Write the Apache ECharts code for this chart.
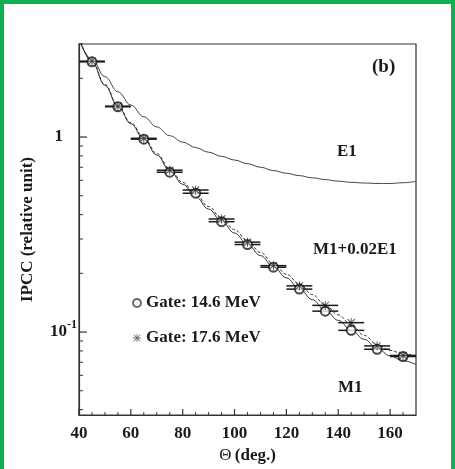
<!DOCTYPE html>
<html>
<head>
<meta charset="utf-8">
<script src="https://cdn.jsdelivr.net/npm/echarts@6/dist/echarts.min.js"></script>
<style>
html,body{margin:0;padding:0;background:#fff;}
#wrap{position:relative;width:455px;height:469px;}
#chart{position:absolute;left:0;top:0;width:455px;height:469px;}
#frame{position:absolute;left:0;top:0;width:447px;height:469px;border-left:4px solid #10b050;border-right:4px solid #10b050;border-top:4px solid #10b050;pointer-events:none;}
</style>
</head>
<body>
<div id="wrap"><div id="chart"></div><div id="frame"></div></div>
<script>
// ---- data ----
var angles = [45, 55, 65, 75, 85, 95, 105, 115, 125, 135, 145, 155, 165];
var binHalfWidth = 5;
var gate146 = [2.43, 1.43, 0.975, 0.66, 0.515, 0.368, 0.281, 0.215, 0.166, 0.128, 0.102, 0.0816, 0.0749];
var gate176 = [2.45, 1.44, 0.985, 0.676, 0.535, 0.380, 0.289, 0.219, 0.1725, 0.137, 0.1117, 0.0849, 0.0758];

var curveAngles = [40, 45, 50, 55, 60, 65, 70, 75, 80, 85, 90, 95, 100, 105, 110, 115, 120, 125, 130, 135, 140, 145, 150, 155, 160, 165, 170];
var curveE1 = [3.148, 2.5, 2.042, 1.706, 1.459, 1.27, 1.127, 1.016, 0.942, 0.883, 0.836, 0.796, 0.762, 0.73, 0.70, 0.673, 0.652, 0.634, 0.618, 0.605, 0.594, 0.586, 0.581, 0.578, 0.578, 0.583, 0.593];
var curveM1 = [3.236, 2.432, 1.841, 1.435, 1.17, 0.977, 0.809, 0.673, 0.573, 0.494, 0.427, 0.370, 0.322, 0.282, 0.2466, 0.2163, 0.1897, 0.1667, 0.1466, 0.1294, 0.1148, 0.1023, 0.0918, 0.0825, 0.0755, 0.0712, 0.0682];
var curveMix = [3.236, 2.455, 1.862, 1.452, 1.186, 0.993, 0.824, 0.687, 0.586, 0.507, 0.44, 0.383, 0.335, 0.294, 0.256, 0.224, 0.198, 0.1766, 0.1556, 0.1377, 0.1225, 0.1091, 0.0962, 0.0863, 0.0805, 0.0773, 0.0755];

var xMajorTicks = [40, 60, 80, 100, 120, 140, 160];
var xMinorTicks = [45, 50, 55, 65, 70, 75, 85, 90, 95, 105, 110, 115, 125, 130, 135, 145, 150, 155, 165];
var yMajorTicks = [0.1, 1];
var yMinorTicks = [0.04, 0.05, 0.06, 0.07, 0.08, 0.09, 0.2, 0.3, 0.4, 0.5, 0.6, 0.7, 0.8, 0.9, 2, 3];
var yRange = [0.0375, 3.0];
var xRange = [40, 170];

// ---- build ----
var L = Math.log10;
function pts(xs, ys) { return xs.map(function (x, i) { return [x, L(ys[i])]; }); }
var serif = '"Liberation Serif","DejaVu Serif",serif';
var ink = '#1a1a1a';
var yMin = L(yRange[0]), yMax = L(yRange[1]);
var frameLine = { show: true, onZero: false, lineStyle: { color: '#333', width: 1.2 } };
var starPath = 'path://M4.5,0 L5.5,0 L5.5,10 L4.5,10 Z M0,4.5 L10,4.5 L10,5.5 L0,5.5 Z M1.354,0.646 L9.354,8.646 L8.646,9.354 L0.646,1.354 Z M8.646,0.646 L9.354,1.354 L1.354,9.354 L0.646,8.646 Z';

function errBar(data) {
  return {
    type: 'custom', silent: true, data: data, z: 3,
    renderItem: function (params, api) {
      var y = api.value(1);
      var a = api.coord([api.value(0) - binHalfWidth, y]);
      var b = api.coord([api.value(0) + binHalfWidth, y]);
      return { type: 'line', shape: { x1: a[0], y1: a[1], x2: b[0], y2: b[1] }, style: { stroke: ink, lineWidth: 1.5 } };
    }
  };
}
// axis ticks placed through the axes' own scales
function xTicks(values, len, w) {
  return {
    type: 'custom', silent: true, clip: false, z: 6,
    data: values.map(function (v) { return [v, yMin]; }),
    renderItem: function (params, api) {
      var p = api.coord([api.value(0), yMin]);
      return { type: 'line', shape: { x1: p[0], y1: p[1], x2: p[0], y2: p[1] - len }, style: { stroke: '#333', lineWidth: w } };
    }
  };
}
function yTicks(values, len, w) {
  return {
    type: 'custom', silent: true, clip: false, z: 6,
    data: values.map(function (v) { return [xRange[0], L(v)]; }),
    renderItem: function (params, api) {
      var p = api.coord([xRange[0], api.value(1)]);
      return { type: 'line', shape: { x1: p[0], y1: p[1], x2: p[0] + len, y2: p[1] }, style: { stroke: '#333', lineWidth: w } };
    }
  };
}

var chart = echarts.init(document.getElementById('chart'), null, { renderer: 'canvas' });
chart.setOption({
  animation: false,
  backgroundColor: '#fff',
  grid: { left: 79, top: 44, width: 337, height: 373, show: true, borderColor: '#333', borderWidth: 1.2, backgroundColor: 'transparent' },
  xAxis: {
    type: 'value', min: xRange[0], max: xRange[1], position: 'bottom',
    axisLine: frameLine, splitLine: { show: false },
    axisTick: { show: false },
    axisLabel: { customValues: xMajorTicks, margin: 10, fontFamily: serif, fontWeight: 'bold', fontSize: 17, color: ink },
    name: '{t|\u0398} {b|(deg.)}', nameLocation: 'middle', nameGap: 30,
    nameTextStyle: { rich: { t: { fontFamily: serif, fontSize: 17, color: ink }, b: { fontFamily: serif, fontSize: 17, fontWeight: 'bold', color: ink } } }
  },
  yAxis: {
    type: 'value', min: yMin, max: yMax, position: 'left',
    axisLine: frameLine, splitLine: { show: false },
    axisTick: { show: false },
    axisLabel: {
      customValues: yMajorTicks.map(L), margin: 2,
      formatter: function (v) {
        if (Math.abs(v) < 1e-6) return '{one|1}';
        return '{b|10}{s|' + Math.round(v) + '}';
      },
      rich: {
        one: { fontFamily: serif, fontWeight: 'bold', fontSize: 17, color: ink, padding: [0, 14, 0, 0] },
        b: { fontFamily: serif, fontWeight: 'bold', fontSize: 17, color: ink },
        s: { fontFamily: serif, fontWeight: 'bold', fontSize: 12, color: ink, padding: [0, 0, 14, 0] }
      }
    },
    name: 'IPCC (relative unit)', nameLocation: 'middle', nameGap: 43, nameRotate: 90,
    nameTextStyle: { fontFamily: serif, fontWeight: 'bold', fontSize: 17, color: ink }
  },
  legend: {
    orient: 'vertical', left: 127, top: 288, itemGap: 15, itemWidth: 8, itemHeight: 8,
    selectedMode: false,
    textStyle: { fontFamily: serif, fontWeight: 'bold', fontSize: 17, color: ink, lineHeight: 20 },
    data: [
      { name: 'Gate: 14.6 MeV', icon: 'emptyCircle', itemStyle: { color: '#444', borderColor: '#444', borderWidth: 1 } },
      { name: 'Gate: 17.6 MeV', icon: starPath, itemStyle: { color: '#444' } }
    ]
  },
  series: [
    { name: 'E1', type: 'line', data: pts(curveAngles, curveE1), showSymbol: false, smooth: 0.4, smoothMonotone: 'x', lineStyle: { color: '#444', width: 1 }, z: 1 },
    { name: 'M1', type: 'line', data: pts(curveAngles, curveM1), showSymbol: false, smooth: 0.4, smoothMonotone: 'x', lineStyle: { color: '#333', width: 1 }, z: 1 },
    { name: 'M1+0.02E1', type: 'line', data: pts(curveAngles, curveMix), showSymbol: false, smooth: 0.4, smoothMonotone: 'x', lineStyle: { color: '#333', width: 1, type: [3, 2] }, z: 1 },
    errBar(pts(angles, gate146)),
    errBar(pts(angles, gate176)),
    { name: 'Gate: 14.6 MeV', type: 'scatter', data: pts(angles, gate146), symbol: 'emptyCircle', symbolSize: 9, itemStyle: { color: ink, borderColor: ink, borderWidth: 1.2 }, z: 4 },
    { name: 'Gate: 17.6 MeV', type: 'scatter', data: pts(angles, gate176), symbol: starPath, symbolSize: 9, itemStyle: { color: ink }, z: 5 },
    xTicks(xMajorTicks, 6, 1.2),
    xTicks(xMinorTicks, 3, 1),
    yTicks(yMajorTicks, 8, 1.2),
    yTicks(yMinorTicks, 4, 1)
  ],
  graphic: [
    { type: 'text', left: 372, top: 58, style: { text: '(b)', fontFamily: serif, fontWeight: 'bold', fontSize: 19, fill: ink } },
    { type: 'text', left: 337, top: 143, style: { text: 'E1', fontFamily: serif, fontWeight: 'bold', fontSize: 17, fill: ink } },
    { type: 'text', left: 313, top: 241, style: { text: 'M1+0.02E1', fontFamily: serif, fontWeight: 'bold', fontSize: 17, fill: ink } },
    { type: 'text', left: 338, top: 379, style: { text: 'M1', fontFamily: serif, fontWeight: 'bold', fontSize: 17, fill: ink } }
  ]
});
</script>
</body>
</html>
